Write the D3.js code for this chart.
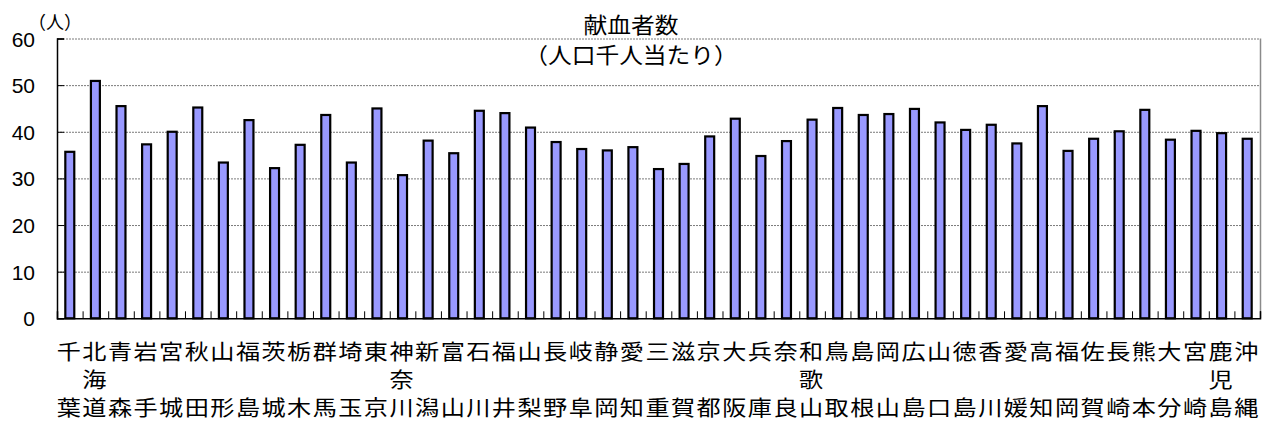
<!DOCTYPE html>
<html>
<head>
<meta charset="utf-8">
<script src="https://cdn.jsdelivr.net/npm/d3@7"></script>
<style>
  html, body { margin: 0; padding: 0; background: #fff; }
  svg { display: block; }
</style>
</head>
<body>
<svg id="chart" width="1268" height="423"></svg>
<script>
const categories = ["千葉","北海道","青森","岩手","宮城","秋田","山形","福島","茨城","栃木","群馬","埼玉","東京","神奈川","新潟","富山","石川","福井","山梨","長野","岐阜","静岡","愛知","三重","滋賀","京都","大阪","兵庫","奈良","和歌山","鳥取","島根","岡山","広島","山口","徳島","香川","愛媛","高知","福岡","佐賀","長崎","熊本","大分","宮崎","鹿児島","沖縄"];
const values = [35.7,50.9,45.5,37.3,40.0,45.2,33.4,42.5,32.2,37.2,43.6,33.4,45.0,30.7,38.1,35.4,44.5,44.0,40.9,37.8,36.3,36.0,36.7,32.0,33.1,39.0,42.8,34.8,38.0,42.6,45.1,43.6,43.8,44.9,42.0,40.4,41.5,37.5,45.5,35.9,38.5,40.1,44.7,38.3,40.2,39.7,38.5];
const yTicks = [0,10,20,30,40,50,60];
const titleLines = ["献血者数","（人口千人当たり）"];
const unitLabel = "（人）";

const svg = d3.select("#chart");
const L = 57, R = 1260, T = 38.5, B = 318.3;
const jp = "'Noto Sans CJK JP','Noto Sans',sans-serif";
const num = "'Liberation Sans',Arial,sans-serif";

const x = d3.scaleBand().domain(categories).range([L, R]).paddingInner(0.65).paddingOuter(0.325);
const xb = d3.scaleLinear().domain([0, categories.length]).range([L, R]);
const y = d3.scaleLinear().domain([0, 60]).range([B, T]);

// gridlines
svg.append("g").selectAll("line").data(yTicks.filter(d => d > 0)).join("line")
  .attr("x1", L).attr("x2", R)
  .attr("y1", d => y(d) + 0.5).attr("y2", d => y(d) + 0.5)
  .attr("stroke", "#7a7a7a").attr("stroke-width", 1)
  .attr("stroke-dasharray", "2,1");

// right border
svg.append("line").attr("x1", R + 0.5).attr("x2", R + 0.5).attr("y1", T).attr("y2", B)
  .attr("stroke", "#8a8a8a").attr("stroke-width", 1.5);

// bars
svg.append("g").selectAll("rect").data(categories).join("rect")
  .attr("x", d => x(d))
  .attr("y", (d, i) => y(values[i]))
  .attr("width", x.bandwidth())
  .attr("height", (d, i) => y(0) - y(values[i]))
  .attr("fill", "#9999ff")
  .attr("stroke", "#000")
  .attr("stroke-width", 2.2);

// x axis (ticks at category boundaries, inside)
const gx = svg.append("g").attr("transform", `translate(0,${B})`)
  .call(d3.axisBottom(xb).tickValues(d3.range(0, categories.length + 1)).tickSize(-7).tickFormat(""));
gx.select(".domain").attr("stroke", "#000").attr("stroke-width", 1.5);
gx.selectAll(".tick line").attr("stroke", "#000").attr("stroke-width", 1);

// y axis
const gy = svg.append("g").attr("transform", `translate(${L},0)`)
  .call(d3.axisLeft(y).tickValues(yTicks).tickSize(-7).tickPadding(22));
gy.select(".domain").attr("stroke", "#000").attr("stroke-width", 1.5);
gy.selectAll(".tick line").attr("stroke", "#000");
gy.selectAll(".tick text").attr("font-family", num).attr("font-size", 21).attr("fill", "#000").attr("dy", "0.36em");

// unit label
svg.append("text").attr("x", 55).attr("y", 21).attr("text-anchor", "middle")
  .attr("dominant-baseline", "central")
  .attr("font-family", jp).attr("font-size", 18).text(unitLabel);

// title
svg.append("g").selectAll("text").data(titleLines).join("text")
  .attr("transform", (d, i) => `translate(631,${23 + i * 30}) scale(1.08,1)`)
  .attr("text-anchor", "middle").attr("dominant-baseline", "central")
  .attr("font-family", jp).attr("font-size", 22).attr("fill", "#000")
  .text(d => d);

// category labels (vertical stacked characters)
const rowY = [350, 378, 406];
const lab = svg.append("g");
categories.forEach(c => {
  const chars = Array.from(c);
  const cx = x(c) + x.bandwidth() / 2;
  chars.forEach((ch, j) => {
    let row;
    if (j === 0) row = 0;
    else if (j === chars.length - 1) row = 2;
    else row = 1;
    lab.append("text")
      .attr("transform", `translate(${cx - 1},${rowY[row]}) scale(1.15,1)`)
      .attr("text-anchor", "middle").attr("dominant-baseline", "central")
      .attr("font-family", jp).attr("font-size", 21).attr("fill", "#000")
      .text(ch);
  });
});
</script>
</body>
</html>
